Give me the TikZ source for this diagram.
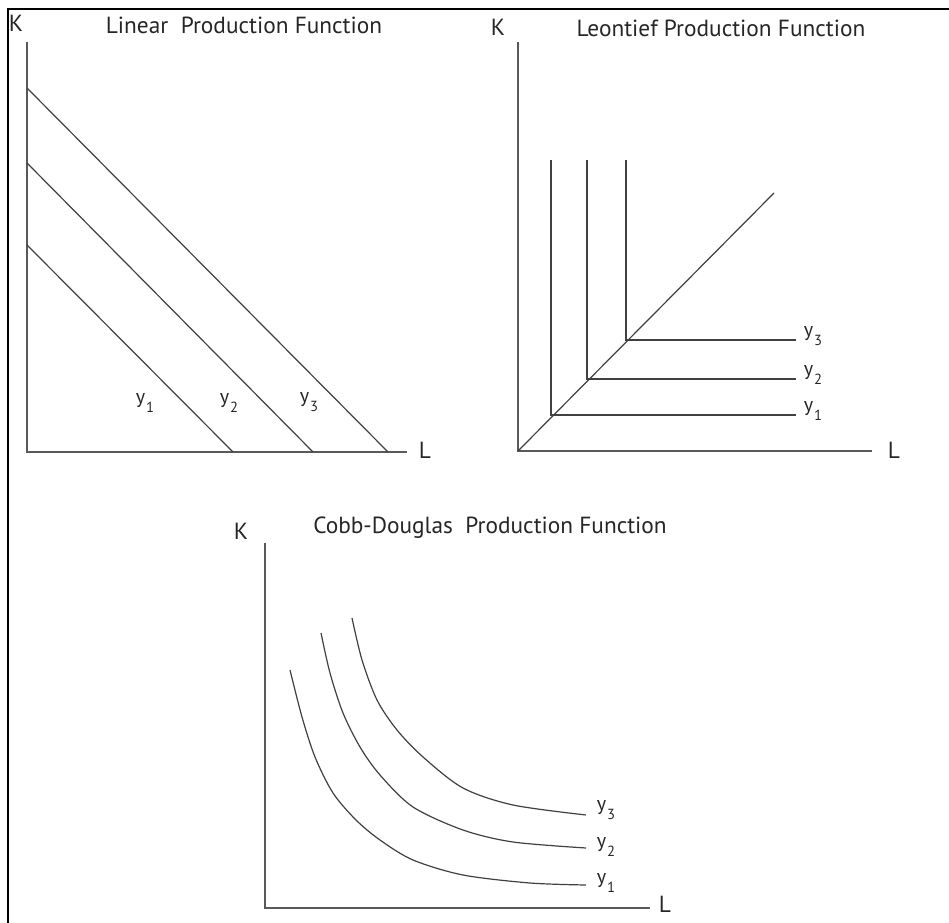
\documentclass[tikz,border=0pt]{standalone}
\usepackage{fontspec}
\setmainfont{PT Sans}
\usepackage{tikz}
\usetikzlibrary{positioning}
\newcommand{\ylab}[1]{y\kern0.6pt\raisebox{-0.85ex}{\fontsize{11}{13}\selectfont #1}}

\begin{document}
\begin{tikzpicture}[x=0.75pt, y=-0.75pt,
  every node/.style={font=\fontsize{17.5}{20}\selectfont, text=black!85, inner sep=0pt},
  axis/.style={draw=black!65, line width=0.9pt},
  iso/.style={draw=black!75, line width=0.9pt},
  lab/.style={font=\fontsize{15}{17}\selectfont}]
  \useasboundingbox (0,0) rectangle (949,923);
  \draw[line width=1.6pt] (8,923) -- (8,9) -- (949,9);

  % linear
  \coordinate (o1) at (27,452);
  \draw[axis] (27,42) -- (o1) -- (407,452);
  \node (k1) at (16,23) {K};
  \node (l1) at (425,450) {L};
  \node (t1) at (244,25) {Linear\ \ Production Function};
  \draw[iso] (27,245) -- (233,452);
  \draw[iso] (27,163) -- (313,452);
  \draw[iso] (27,88) -- (388,452);
  \node[lab] (a1) at (145,403) {\ylab{1}};
  \node[lab] (a2) at (229,403) {\ylab{2}};
  \node[lab] (a3) at (309,402) {\ylab{3}};

  % leontief
  \coordinate (o2) at (518,451);
  \draw[axis] (518,42) -- (o2) -- (872,451);
  \node (k2) at (498,27) {K};
  \node (l2) at (894,450) {L};
  \node (t2) at (721,28) {Leontief Production Function};
  \draw[iso] (o2) -- (774,193);
  \foreach \x/\y/\i in {551/415/1, 587/379/2, 626/340/3} {
    \draw[iso] (\x,160) -- (\x,\y) -- (796,\y);
    \node[lab] (b\i) at (813,\y-4) {\ylab{\i}};
  }

  % cobb-douglas
  \coordinate (o3) at (265,908);
  \draw[axis] (265,543) -- (o3) -- (650,908);
  \node (k3) at (241,531) {K};
  \node (l3) at (665,904) {L};
  \node (t3) at (490,528) {Cobb-Douglas\ \ Production Function};
  \draw[iso] plot[smooth, tension=0.5] coordinates {(290,670) (302,717) (315,757) (333,793) (356,820) (380,840) (413,860) (463,875) (530,883) (586,885)};
  \draw[iso] plot[smooth, tension=0.5] coordinates {(321,633) (330,673) (343,713) (360,747) (380,775) (413,807) (463,830) (513,842) (586,848)};
  \draw[iso] plot[smooth, tension=0.5] coordinates {(352,618) (362,660) (377,700) (397,730) (423,757) (463,788) (513,805) (586,815)};
  \node[lab] (c1) at (606,883) {\ylab{1}};
  \node[lab] (c2) at (606,847) {\ylab{2}};
  \node[lab] (c3) at (606,810) {\ylab{3}};
\end{tikzpicture}
\end{document}
